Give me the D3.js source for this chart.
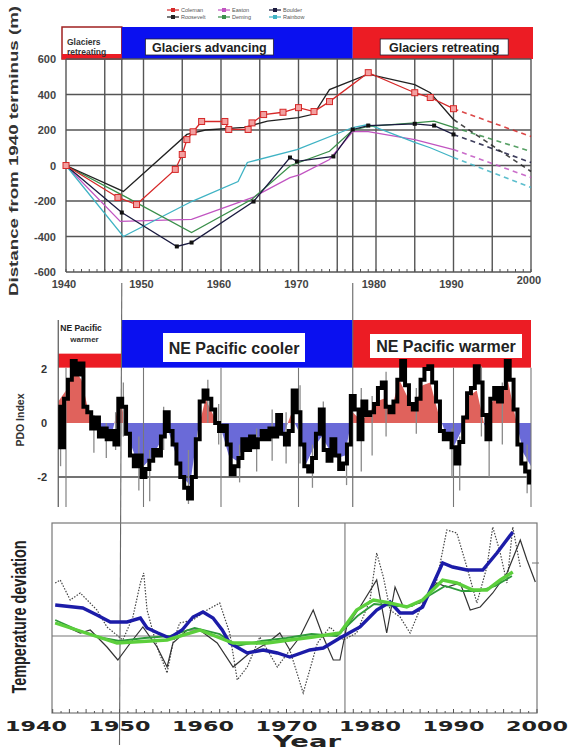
<!DOCTYPE html>
<html>
<head>
<meta charset="utf-8">
<script src="https://cdn.jsdelivr.net/npm/d3@7"></script>
<style>
body { margin: 0; background: #fff; }
svg { display: block; font-family: "Liberation Sans", Arial, sans-serif; }
</style>
</head>
<body>
<svg id="chart" width="572" height="753"></svg>
<script>
// ---- glacier terminus data (m from 1940 position) ----
var glacierNames = ['Coleman', 'Roosevelt', 'Easton', 'Deming', 'Boulder', 'Rainbow'];
var glacierColors = ['#d62828', '#222222', '#c154c1', '#3a8f4a', '#1b1b40', '#3fb3c4'];
var colemanYears = [1940, 1946.7, 1949.1, 1954.1, 1955, 1955.6, 1956.4, 1957.5, 1960.5, 1961, 1963.5, 1964, 1965.5, 1968, 1970, 1972, 1974, 1979, 1985, 1987, 1990];
var colemanM = [0, -180, -220, -22, 62, 146, 190, 248, 248, 203, 203, 240, 287, 300, 326, 304, 360, 523, 410, 383, 320];
var rooseveltYears = [1940, 1947.4, 1955.6, 1958, 1963, 1966, 1970, 1972, 1974, 1979, 1985, 1987, 1990];
var rooseveltM = [0, -146, 175, 200, 215, 250, 270, 290, 428, 515, 456, 410, 259];
var eastonYears = [1940, 1947, 1956.2, 1964.1, 1968.9, 1970.2, 1974, 1977, 1979, 1985, 1990];
var eastonM = [0, -315, -304, -180, -68, -51, 34, 191, 191, 146, 90];
var demingYears = [1940, 1947.4, 1956.2, 1964, 1969, 1974, 1977, 1979, 1985, 1987.5, 1990];
var demingM = [0, -170, -378, -190, 0, 80, 200, 220, 240, 250, 215];
var boulderYears = [1940, 1947.2, 1954.3, 1956.2, 1964.2, 1968.9, 1969.8, 1974.5, 1977, 1979, 1985, 1987.5, 1990];
var boulderM = [0, -265, -456, -434, -203, 45, 23, 51, 203, 225, 235, 225, 175];
var rainbowYears = [1940, 1947.4, 1956.2, 1962.2, 1963.4, 1969.8, 1977, 1979, 1985, 1987, 1990];
var rainbowM = [0, -400, -203, -90, 17, 90, 214, 231, 130, 100, 45];
var projected2000 = [163, -34, -68, 79, 17, -124];

var topTicks = [-600, -400, -200, 0, 200, 400, 600];
var topYearLabels = [1940, 1950, 1960, 1970, 1980, 1990, 2000];

// ---- PDO index ----
var pdoStart = 1939;
var pdoHalfYear = [
    0.6, -0.9, 0.9, 1.6, 2.3, 1.8, 2.2, 0.6, 0.4, -0.2,
    0.2, -0.5, -0.2, -0.6, -0.3, -0.8, 0.9, 0.6, -0.4, -1.2,
    -1.6, -1.2, -2.0, -1.7, -1.4, -1.0, -1.2, -0.5, 0.4, -0.3,
    -0.8, -1.5, -2.0, -2.4, -2.8, -2.0, -0.6, 0.8, 1.2, 0.9,
    0.5, 0.0, -0.3, -0.1, -0.8, -1.9, -1.6, -1.3, -0.6, -1.0,
    -0.5, -0.9, -0.6, -0.3, -0.6, -0.2, -0.5, 0.3, -0.4, -0.8,
    -0.3, 1.2, 0.4, -0.8, -1.6, -1.8, -1.3, -0.4, 0.5, -1.0,
    -1.4, -0.6, -1.2, -1.7, -1.5, -0.8, 1.0, 0.5, -0.6, 0.8,
    0.3, 0.4, 0.7, 1.3, 1.5, 0.6, 0.4, 0.8, 1.6, 2.3,
    1.4, 0.7, 0.5, 0.9, 1.6, 2.0, 2.1, 1.5, 0.8, -0.3,
    -0.6, -0.4, -0.9, -1.5, -0.7, 0.2, 1.1, 1.3, 2.1, 1.5,
    0.3, -0.6, 0.9, 1.3, 0.8, 1.3, 2.3, 1.6, 0.5, -0.8,
    -1.5, -1.8, -2.2
];
var pdoAnnual = [
    0.8, 1.2, 2.0, 1.6, 0.3, -0.1, -0.2, -0.3, 0.9, -0.5,
    -1.3, -1.6, -1.3, -0.8, -0.1, -1.0, -2.0, -2.3, -0.3, 0.9,
    0.3, -0.2, -1.2, -1.4, -0.8, -0.7, -0.5, -0.4, -0.2, -0.5,
    0.3, -0.3, -1.5, -0.9, -0.5, -1.0, -1.3, -1.2, 0.4, 0.1,
    0.3, 0.8, 0.9, 0.5, 1.6, 1.0, 0.6, 1.4, 1.5, 0.4,
    -0.4, -0.9, -0.3, 1.0, 1.2, -0.1, 0.8, 1.0, 1.6, 0.2,
    -1.1, -1.6
];
// thin monthly excursions: [year, low, high]
var pdoSpikes = [
    [1939.3, -1.6, 0.5], [1943.6, -1.1, 0.3], [1945.2, -1.3, 0], [1946.4, -1.0, 0.4],
    [1947.4, -0.5, 1.5], [1949.4, -2.5, -0.5], [1950.8, -2.9, -1.0], [1952.6, -1.0, 0.6],
    [1955.8, -3.0, -1.0], [1958.3, 0, 1.6], [1959.7, -0.8, 0.7], [1962.4, -2.2, -0.8],
    [1964.6, -1.8, -0.2], [1966.6, -1.4, 0.5], [1968.4, -1.5, 0.4], [1970.2, -1.5, 1.4],
    [1971.8, -2.4, -0.8], [1973.2, -0.8, 0.8], [1976.2, -2.3, -0.8], [1978.1, -1.8, 1.3],
    [1979.5, -1.2, 1.0], [1981.3, -0.5, 1.9], [1985.2, -0.4, 1.3], [1989.8, -2.0, -0.2],
    [1990.8, -2.5, -0.5], [1993.6, -0.5, 2.1], [1994.6, -2.0, 0.2], [1996.3, -0.8, 1.5],
    [1999.5, -2.6, -0.8]
];
var pdoTicks = [-2, 0, 2];
var pdoGridYears = [1940, 1950, 1960, 1970, 1990, 2000];

// ---- temperature deviation ----
var tAnnualYears = [1942.3, 1942.9, 1944.1, 1945.3, 1947.3, 1948.5, 1950.4, 1951.6, 1952.5, 1952.9, 1953.3, 1954.5, 1955.7, 1956.4, 1957.2, 1958.8, 1960.5, 1962.0, 1963.2, 1964.1, 1965.3, 1966.8, 1968.9, 1970.4, 1972.0, 1973.7, 1975.2, 1976.8, 1978.4, 1980.0, 1980.8, 1981.6, 1982.4, 1983.6, 1984.8, 1986.3, 1988.0, 1989.2, 1990.4, 1991.6, 1992.8, 1994.0, 1994.7, 1995.6, 1996.4, 1997.1, 1998.0];
var tAnnual = [0.53, 0.56, 0.36, 0.43, 0.26, 0.09, -0.04, 0.19, 0.53, 0.63, 0.26, -0.11, -0.37, -0.07, 0.13, 0.16, 0.26, 0.33, 0.03, -0.44, -0.31, -0.01, -0.31, -0.14, -0.57, -0.07, 0.09, -0.04, 0.03, 0.36, 0.83, 0.59, 0.26, 0.19, 0.03, 0.33, 0.56, 1.06, 1.03, 0.69, 0.33, 0.69, 1.09, 0.83, 0.53, 1.09, 0.69];
var tRegionYears = [1942.3, 1943.7, 1945.3, 1946.5, 1948.5, 1949.8, 1951.3, 1952.8, 1954.5, 1955.7, 1956.4, 1958.1, 1959.6, 1961.7, 1963.6, 1965.6, 1967.7, 1969.2, 1970.4, 1971.6, 1973.2, 1974.4, 1975.6, 1976.4, 1977.2, 1978.8, 1980.8, 1982.0, 1983.0, 1984.0, 1986.0, 1988.0, 1989.2, 1990.8, 1992.0, 1993.2, 1994.7, 1996.4, 1998.0, 1998.8, 1999.8];
var tRegion = [0.13, 0.09, 0.03, 0.06, -0.11, -0.24, -0.07, 0.09, -0.11, -0.31, -0.07, 0.06, 0.06, -0.07, -0.31, -0.17, -0.07, 0.03, -0.14, -0.01, 0.26, -0.01, -0.24, -0.24, 0.09, 0.29, 0.56, 0.03, 0.49, 0.29, 0.33, 0.53, 0.49, 0.53, 0.26, 0.29, 0.43, 0.63, 0.96, 0.76, 0.54];
var tBlueYears = [1942.3, 1945.6, 1947.3, 1948.9, 1950.9, 1952.5, 1953.3, 1954.6, 1956.0, 1957.5, 1958.8, 1960.0, 1961.2, 1962.3, 1963.2, 1965.3, 1967.2, 1968.9, 1970.4, 1972.8, 1974.4, 1976.4, 1978.8, 1980.8, 1982.4, 1983.6, 1985.1, 1986.3, 1988.7, 1989.9, 1991.6, 1993.5, 1995.2, 1997.1];
var tBlue = [0.31, 0.28, 0.21, 0.14, 0.14, 0.18, 0.08, 0.03, -0.02, 0.06, 0.19, 0.24, 0.18, 0.06, -0.07, -0.17, -0.14, -0.17, -0.21, -0.14, -0.12, -0.02, 0.09, 0.26, 0.34, 0.23, 0.23, 0.29, 0.73, 0.69, 0.66, 0.66, 0.83, 1.04];
var tGreenYears = [1942.3, 1949.7, 1955.7, 1959.6, 1963.6, 1967.7, 1970.4, 1973.2, 1976.4, 1978.4, 1980.4, 1982.4, 1984.4, 1986.3, 1988.7, 1990.4, 1992.3, 1994.0, 1995.6, 1997.1];
var tGreen = [0.13, -0.07, -0.04, 0.06, -0.07, -0.07, -0.04, -0.01, 0.03, 0.26, 0.36, 0.33, 0.29, 0.36, 0.56, 0.53, 0.46, 0.46, 0.56, 0.64];
var tGreen2Years = [1942.3, 1945, 1948, 1950, 1953, 1956, 1959, 1962, 1964, 1967, 1970, 1973, 1976, 1978.5, 1980.5, 1983, 1985, 1987, 1989, 1991, 1993, 1995, 1997];
var tGreen2 = [0.16, 0.06, -0.02, -0.05, -0.02, 0.0, 0.08, 0.02, -0.1, -0.05, -0.02, 0.02, 0.0, 0.2, 0.32, 0.3, 0.3, 0.4, 0.5, 0.45, 0.45, 0.5, 0.6];
var botYearLabels = [1940, 1950, 1960, 1970, 1980, 1990, 2000];

// ---- scales ----
var xTop = d3.scaleLinear().domain([1940, 2000]).range([66, 531]);
var yTop = d3.scaleLinear().domain([-600, 600]).range([272, 59]);
var yPdo = d3.scaleLinear().domain([-2, 2]).range([477, 369]);
var xBot = d3.scaleLinear().domain([1940, 2000]).range([36, 537]);
var yBot = d3.scaleLinear().domain([-0.77, 1.13]).range([713, 523]);

var svg = d3.select('#chart');
var RED = '#ec1c24', BLUE = '#0a10f0';

function zip(xs, ys) {
    return xs.map(function(x, i) { return [x, ys[i]]; });
}

// ================= TOP PANEL =================
function drawTop() {
    var g = svg.append('g');
    var bandTop = 27, bandBot = yTop(600);
    // regime band
    g.append('rect').attr('x', xTop(1940) - 4).attr('y', bandTop)
        .attr('width', xTop(1947.2) - xTop(1940) + 4).attr('height', bandBot - bandTop)
        .attr('fill', '#fff').attr('stroke', '#a02020').attr('stroke-width', 1.5);
    g.append('rect').attr('x', xTop(1940) - 4).attr('y', bandBot - 5)
        .attr('width', xTop(1947.2) - xTop(1940) + 4).attr('height', 5).attr('fill', RED);
    g.append('rect').attr('x', xTop(1947.2)).attr('y', bandTop)
        .attr('width', xTop(1977) - xTop(1947.2)).attr('height', bandBot - bandTop).attr('fill', BLUE);
    g.append('rect').attr('x', xTop(1977)).attr('y', bandTop)
        .attr('width', xTop(2000) + 2 - xTop(1977)).attr('height', bandBot - bandTop).attr('fill', RED);
    g.append('text').attr('x', xTop(1940) + 1).attr('y', 45)
        .attr('font-size', 8.5).attr('font-weight', 'bold').attr('fill', '#333').text('Glaciers');
    g.append('text').attr('x', xTop(1940) + 1).attr('y', 55)
        .attr('font-size', 8.5).attr('font-weight', 'bold').attr('fill', '#333').text('retreating');
    [['Glaciers advancing', 1958.5], ['Glaciers retreating', 1988.8]].forEach(function(d) {
        var cx = xTop(d[1]);
        g.append('rect').attr('x', cx - 64).attr('y', 39).attr('width', 128).attr('height', 16)
            .attr('fill', '#fff').attr('stroke', '#223').attr('stroke-width', 0.8);
        g.append('text').attr('x', cx).attr('y', 52).attr('text-anchor', 'middle')
            .attr('font-size', 12.5).attr('font-weight', 'bold').attr('fill', '#222').text(d[0]);
    });

    // grid
    var vYears = d3.range(1940, 2001, 5).concat([1947.2, 1977]);
    g.selectAll('.vgrid').data(vYears).enter().append('line')
        .attr('x1', function(d) { return xTop(d); }).attr('x2', function(d) { return xTop(d); })
        .attr('y1', yTop(600)).attr('y2', yTop(-600))
        .attr('stroke', '#555').attr('stroke-width', 1.4);
    g.selectAll('.hgrid').data(topTicks).enter().append('line')
        .attr('x1', xTop(1940)).attr('x2', xTop(2000))
        .attr('y1', function(d) { return yTop(d); }).attr('y2', function(d) { return yTop(d); })
        .attr('stroke', '#555').attr('stroke-width', 1.4);
    g.selectAll('.minor').data(d3.range(1940, 2001)).enter().append('line')
        .attr('x1', function(d) { return xTop(d); }).attr('x2', function(d) { return xTop(d); })
        .attr('y1', yTop(-600)).attr('y2', yTop(-600) - 3)
        .attr('stroke', '#555').attr('stroke-width', 1);

    g.selectAll('.ylab').data(topTicks).enter().append('text')
        .attr('x', 56).attr('y', function(d) { return yTop(d) + 4; })
        .attr('text-anchor', 'end').attr('font-size', 11).attr('font-weight', 'bold')
        .attr('fill', '#444').text(function(d) { return d; });
    g.selectAll('.xlab').data(topYearLabels).enter().append('text')
        .attr('x', function(d) { return xTop(d) - 2; })
        .attr('y', function(d) { return d === 2000 ? 284 : 288; })
        .attr('text-anchor', 'middle').attr('font-size', 11).attr('font-weight', 'bold')
        .attr('fill', '#444').text(function(d) { return d; });
    g.append('text').attr('transform', 'translate(18,' + 151 + ') rotate(-90)')
        .attr('text-anchor', 'middle').attr('font-size', 12.5).attr('font-weight', 'bold')
        .attr('fill', '#333').attr('textLength', 290).attr('lengthAdjust', 'spacingAndGlyphs')
        .text('Distance from 1940 terminus (m)');

    // glacier lines
    var years = [colemanYears, rooseveltYears, eastonYears, demingYears, boulderYears, rainbowYears];
    var vals = [colemanM, rooseveltM, eastonM, demingM, boulderM, rainbowM];
    var line = d3.line().x(function(d) { return xTop(d[0]); }).y(function(d) { return yTop(d[1]); });
    var order = [2, 5, 3, 4, 1, 0];
    order.forEach(function(i) {
        var pts = zip(years[i], vals[i]);
        var last = pts[pts.length - 1];
        g.append('path').attr('d', line([last, [2000, projected2000[i]]]))
            .attr('fill', 'none').attr('stroke', glacierColors[i]).attr('stroke-width', 1.6)
            .attr('stroke-dasharray', '5,4').attr('opacity', 0.85);
        g.append('path').attr('d', line(pts))
            .attr('fill', 'none').attr('stroke', glacierColors[i]).attr('stroke-width', 1.3);
    });
    g.selectAll('.cmark').data(zip(colemanYears, colemanM)).enter().append('rect')
        .attr('x', function(d) { return xTop(d[0]) - 3; }).attr('y', function(d) { return yTop(d[1]) - 3; })
        .attr('width', 6).attr('height', 6)
        .attr('fill', '#f2a0a0').attr('stroke', '#d62828').attr('stroke-width', 1);
    g.selectAll('.bmark').data(zip(boulderYears, boulderM).slice(1)).enter().append('rect')
        .attr('x', function(d) { return xTop(d[0]) - 2; }).attr('y', function(d) { return yTop(d[1]) - 2; })
        .attr('width', 4).attr('height', 4).attr('fill', '#111');

    // legend
    var legendOrder = [0, 2, 4, 1, 3, 5];
    legendOrder.forEach(function(gi, k) {
        var col = k % 3, row = Math.floor(k / 3);
        var lx = 167 + col * 51, ly = 10 + row * 7;
        g.append('line').attr('x1', lx).attr('x2', lx + 12).attr('y1', ly).attr('y2', ly)
            .attr('stroke', glacierColors[gi]).attr('stroke-width', 1.2);
        g.append('rect').attr('x', lx + 4).attr('y', ly - 2).attr('width', 4).attr('height', 4)
            .attr('fill', glacierColors[gi]);
        g.append('text').attr('x', lx + 14).attr('y', ly + 2)
            .attr('font-size', 5.5).attr('fill', '#555').text(glacierNames[gi]);
    });
}

// ================= PDO PANEL =================
function drawPdo() {
    var g = svg.append('g');
    var bandTop = 320, bandBot = yPdo(2.05);
    var left = xTop(pdoStart);
    g.append('rect').attr('x', left).attr('y', bandBot - 14)
        .attr('width', xTop(1947.2) - left).attr('height', 14).attr('fill', RED);
    g.append('rect').attr('x', xTop(1947.2)).attr('y', bandTop)
        .attr('width', xTop(1977) - xTop(1947.2)).attr('height', bandBot - bandTop).attr('fill', BLUE);
    g.append('rect').attr('x', xTop(1977)).attr('y', bandTop)
        .attr('width', xTop(2000) - xTop(1977)).attr('height', bandBot - bandTop).attr('fill', RED);
    g.append('text').attr('x', left + 2).attr('y', 331)
        .attr('font-size', 8.5).attr('font-weight', 'bold').attr('fill', '#222').text('NE Pacific');
    g.append('text').attr('x', left + 12).attr('y', 342)
        .attr('font-size', 8).attr('font-weight', 'bold').attr('fill', '#333').text('warmer');
    g.append('rect').attr('x', 163).attr('y', 333).attr('width', 142).attr('height', 29).attr('fill', '#fff');
    g.append('text').attr('x', 234).attr('y', 354).attr('text-anchor', 'middle')
        .attr('font-size', 16).attr('font-weight', 'bold').attr('fill', '#222').text('NE Pacific cooler');
    g.append('rect').attr('x', 370).attr('y', 334).attr('width', 152).attr('height', 24).attr('fill', '#fff');
    g.append('text').attr('x', 446).attr('y', 352).attr('text-anchor', 'middle')
        .attr('font-size', 16).attr('font-weight', 'bold').attr('fill', '#222').text('NE Pacific warmer');

    // smoothed area, red above zero and blue below
    var annual = pdoAnnual.map(function(v, i) { return [pdoStart + i, v]; });
    var area = d3.area().x(function(d) { return xTop(d[0]); })
        .y0(yPdo(0)).y1(function(d) { return yPdo(d[1]); });
    var defs = svg.append('defs');
    defs.append('clipPath').attr('id', 'pdoUp').append('rect')
        .attr('x', 0).attr('y', 0).attr('width', 572).attr('height', yPdo(0));
    defs.append('clipPath').attr('id', 'pdoDown').append('rect')
        .attr('x', 0).attr('y', yPdo(0)).attr('width', 572).attr('height', 200);
    g.append('path').attr('d', area(annual)).attr('fill', '#e0625c').attr('clip-path', 'url(#pdoUp)');
    g.append('path').attr('d', area(annual)).attr('fill', '#6a6ad8').attr('clip-path', 'url(#pdoDown)');

    // grid
    g.append('line').attr('x1', left).attr('x2', xTop(2000))
        .attr('y1', yPdo(-2)).attr('y2', yPdo(-2)).attr('stroke', '#444').attr('stroke-width', 1.4);
    g.append('line').attr('x1', left).attr('x2', left).attr('y1', bandTop).attr('y2', 507)
        .attr('stroke', '#555').attr('stroke-width', 1.2);
    g.selectAll('.pv').data(pdoGridYears).enter().append('line')
        .attr('x1', function(d) { return xTop(d); }).attr('x2', function(d) { return xTop(d); })
        .attr('y1', bandBot).attr('y2', 507).attr('stroke', '#777').attr('stroke-width', 1.1);
    g.append('line').attr('x1', xTop(1977)).attr('x2', xTop(1977)).attr('y1', 283).attr('y2', 507)
        .attr('stroke', '#666').attr('stroke-width', 1.1);
    g.append('line').attr('x1', xTop(1947.2)).attr('x2', xBot(1950)).attr('y1', 283).attr('y2', 745)
        .attr('stroke', '#666').attr('stroke-width', 1.1);

    // monthly excursions and half-year series
    g.selectAll('.spike').data(pdoSpikes).enter().append('line')
        .attr('x1', function(d) { return xTop(d[0]); }).attr('x2', function(d) { return xTop(d[0]); })
        .attr('y1', function(d) { return yPdo(d[1]); }).attr('y2', function(d) { return yPdo(d[2]); })
        .attr('stroke', '#8a8a8a').attr('stroke-width', 1.3);
    var half = pdoHalfYear.map(function(v, i) { return [pdoStart + i * 0.5, v]; });
    var line = d3.line().x(function(d) { return xTop(d[0]); }).y(function(d) { return yPdo(d[1]); })
        .curve(d3.curveStep);
    g.append('path').attr('d', line(half)).attr('fill', 'none')
        .attr('stroke', '#000').attr('stroke-width', 4).attr('stroke-linejoin', 'miter');

    g.selectAll('.plab').data(pdoTicks).enter().append('text')
        .attr('x', 47).attr('y', function(d) { return yPdo(d) + 4; })
        .attr('text-anchor', 'end').attr('font-size', 11).attr('font-weight', 'bold')
        .attr('fill', '#333').text(function(d) { return d; });
    g.append('text').attr('transform', 'translate(24,420) rotate(-90)')
        .attr('text-anchor', 'middle').attr('font-size', 10.5).attr('font-weight', 'bold')
        .attr('fill', '#333').text('PDO Index');
}

// ================= TEMPERATURE PANEL =================
function drawTemp() {
    var g = svg.append('g');
    var x0 = 52, x1 = xBot(2000), top = yBot(1.13), bot = yBot(-0.77);
    g.append('rect').attr('x', x0).attr('y', top).attr('width', x1 - x0).attr('height', bot - top)
        .attr('fill', 'none').attr('stroke', '#777').attr('stroke-width', 1.2);
    g.append('line').attr('x1', x0).attr('x2', x1).attr('y1', yBot(0)).attr('y2', yBot(0))
        .attr('stroke', '#777').attr('stroke-width', 1.1);
    g.append('line').attr('x1', xBot(1977)).attr('x2', xBot(1977)).attr('y1', top).attr('y2', bot)
        .attr('stroke', '#777').attr('stroke-width', 1.1);
    g.append('line').attr('x1', x1 - 5).attr('x2', x1 + 2).attr('y1', yBot(0.73)).attr('y2', yBot(0.73))
        .attr('stroke', '#777').attr('stroke-width', 1);
    g.selectAll('.tm').data(d3.range(1942, 2001)).enter().append('line')
        .attr('x1', function(d) { return xBot(d); }).attr('x2', function(d) { return xBot(d); })
        .attr('y1', bot).attr('y2', function(d) { return d % 2 === 0 ? bot - 4 : bot - 2; })
        .attr('stroke', '#555').attr('stroke-width', 1);

    var line = d3.line().x(function(d) { return xBot(d[0]); }).y(function(d) { return yBot(d[1]); });
    g.append('path').attr('d', line(zip(tAnnualYears, tAnnual))).attr('fill', 'none')
        .attr('stroke', '#444').attr('stroke-width', 1.2).attr('stroke-dasharray', '1.5,1.5');
    g.append('path').attr('d', line(zip(tRegionYears, tRegion))).attr('fill', 'none')
        .attr('stroke', '#333').attr('stroke-width', 1.2);
    g.append('path').attr('d', line(zip(tGreen2Years, tGreen2))).attr('fill', 'none')
        .attr('stroke', '#2e9a3a').attr('stroke-width', 1.8);
    g.append('path').attr('d', line(zip(tBlueYears, tBlue))).attr('fill', 'none')
        .attr('stroke', '#1c1ca8').attr('stroke-width', 3.4);
    g.append('path').attr('d', line(zip(tGreenYears, tGreen))).attr('fill', 'none')
        .attr('stroke', '#5ccf3c').attr('stroke-width', 3.4);

    g.selectAll('.bx').data(botYearLabels).enter().append('text')
        .attr('x', function(d) { return xBot(d) - 31; }).attr('y', 731)
        .attr('font-family', 'DejaVu Sans').attr('font-size', 14).attr('font-weight', 'bold')
        .attr('fill', '#222').attr('textLength', 62).attr('lengthAdjust', 'spacingAndGlyphs')
        .text(function(d) { return d; });
    g.append('text').attr('x', 273).attr('y', 747)
        .attr('font-family', 'DejaVu Sans').attr('font-size', 15).attr('font-weight', 'bold')
        .attr('fill', '#222').attr('textLength', 68).attr('lengthAdjust', 'spacingAndGlyphs').text('Year');
    g.append('text').attr('transform', 'translate(26,617) rotate(-90)')
        .attr('text-anchor', 'middle').attr('font-family', '"Liberation Sans Narrow", "Liberation Sans", sans-serif')
        .attr('font-size', 20).attr('font-weight', 'bold').attr('fill', '#222')
        .attr('textLength', 153).attr('lengthAdjust', 'spacingAndGlyphs')
        .text('Temperature deviation');
}

drawTop();
drawPdo();
drawTemp();
</script>
</body>
</html>
